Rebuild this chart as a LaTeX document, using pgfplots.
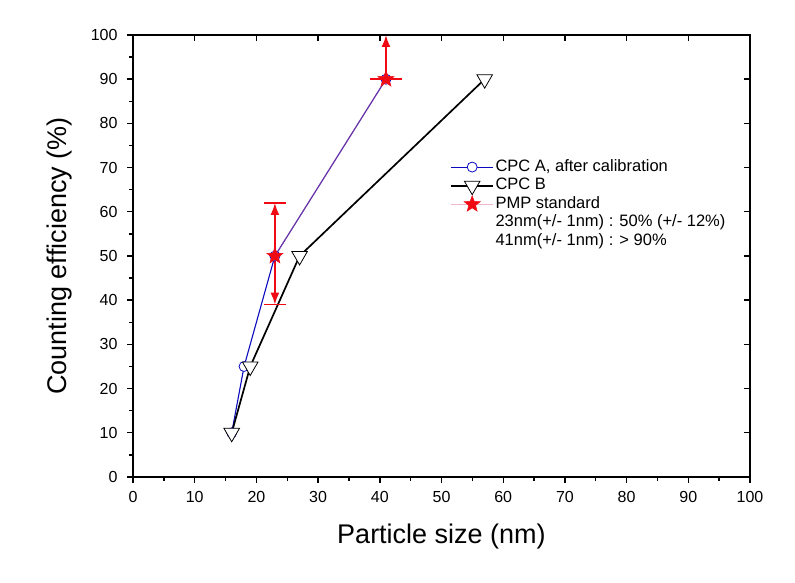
\documentclass[border=0pt]{standalone}
\usepackage{fontspec}
\setmainfont{Liberation Sans}
\usepackage{pgfplots}
\pgfplotsset{compat=1.18}
\usetikzlibrary{arrows.meta}

\pgfdeclareplotmark{fstar}{%
  \pgfpathmoveto{\pgfpointpolar{90}{\pgfplotmarksize}}%
  \pgfpathlineto{\pgfpointpolar{126}{0.42\pgfplotmarksize}}%
  \pgfpathlineto{\pgfpointpolar{162}{\pgfplotmarksize}}%
  \pgfpathlineto{\pgfpointpolar{198}{0.42\pgfplotmarksize}}%
  \pgfpathlineto{\pgfpointpolar{234}{\pgfplotmarksize}}%
  \pgfpathlineto{\pgfpointpolar{270}{0.42\pgfplotmarksize}}%
  \pgfpathlineto{\pgfpointpolar{306}{\pgfplotmarksize}}%
  \pgfpathlineto{\pgfpointpolar{342}{0.42\pgfplotmarksize}}%
  \pgfpathlineto{\pgfpointpolar{18}{\pgfplotmarksize}}%
  \pgfpathlineto{\pgfpointpolar{54}{0.42\pgfplotmarksize}}%
  \pgfpathclose
  \pgfusepathqfillstroke
}

\definecolor{cpcblue}{RGB}{10,10,190}
\definecolor{pmpred}{RGB}{240,10,20}
\definecolor{pmppink}{RGB}{220,100,140}

\begin{document}
\begin{tikzpicture}
\path[use as bounding box] (-133pt,-106pt) rectangle (662pt,477pt);
\begin{axis}[
  scale only axis, width=617pt, height=442pt,
  xmin=0, xmax=100, ymin=0, ymax=100,
  xtick distance=10, ytick distance=10,
  minor x tick num=1, minor y tick num=1,
  tick align=outside, xtick pos=left, ytick pos=left,
  major tick length=6pt, minor tick length=4pt,
  axis line style={line width=1.4pt},
  every tick/.style={black, line width=1.4pt},
  /pgf/number format/assume math mode=true,
  tick label style={font=\fontsize{16}{19}\selectfont},
  yticklabel style={xshift=-6pt},
  xticklabel style={yshift=-5pt},
  xlabel={Particle size (nm)}, ylabel={Counting efficiency (\%)},
  every axis x label/.style={at={(axis description cs:0.5,0)}, yshift=-60pt, anchor=center, font=\fontsize{27}{32}\selectfont},
  every axis y label/.style={at={(axis description cs:0,0.5)}, xshift=-73pt, rotate=90, anchor=center, font=\fontsize{27}{32}\selectfont},
  clip=false,
  legend cell align=left,
  legend style={at={(0.514,0.722)}, anchor=north west, draw=none, fill=none,
    font=\fontsize{16.5}{18}\selectfont, inner sep=0pt, row sep=0.6pt,
    nodes={text height=11.5pt, text depth=3.5pt, inner sep=1.5pt}},
  legend image code/.code={\draw[mark repeat=2,mark phase=2,#1] plot coordinates {(0pt,0pt) (21pt,0pt) (42pt,0pt)};},
]
\addplot[cpcblue, line width=1.1pt, mark=*, mark size=5pt, mark options={solid, line width=0.8pt, fill=white}]
  coordinates {(16,10) (18,25) (23,50) (41,90)};
\addlegendentry{CPC A, after calibration}
\addplot[black, line width=1.7pt, mark=triangle*, mark size=9pt, mark options={rotate=180, fill=white, line width=0.8pt}]
  coordinates {(16,10) (19,25) (27,50) (57,90)};
\addlegendentry{CPC B}
% error arrows of the PMP standard
\addplot[forget plot, pmpred, line width=1.8pt, -{Latex[length=12pt,width=9pt]}, mark=none]
  coordinates {(23,50) (23,62)};
\addplot[forget plot, pmpred, line width=1.8pt, -{Latex[length=12pt,width=9pt]}, mark=none]
  coordinates {(23,50) (23,39)};
\addplot[forget plot, pmpred, line width=1.8pt, -{Latex[length=12pt,width=9pt]}, mark=none]
  coordinates {(41,90) (41,100)};
\addplot[forget plot, only marks, pmpred, mark=-, mark size=11pt, mark options={line width=1.6pt}]
  coordinates {(23,62) (23,39)};
\addplot[forget plot, only marks, pmpred, mark=-, mark size=16pt, mark options={line width=1.6pt}]
  coordinates {(41,90)};
\addplot[pmppink, line width=1.2pt, draw opacity=0.45, mark=fstar, mark size=8.5pt,
  mark options={pmpred, fill=pmpred, draw opacity=1, line width=0.5pt}]
  coordinates {(23,50) (41,90)};
\addlegendentry{PMP standard}
\addlegendimage{empty legend}
\addlegendentry{23nm(+/- 1nm) : 50\% (+/- 12\%)}
\addlegendimage{empty legend}
\addlegendentry{41nm(+/- 1nm) : > 90\%}
\end{axis}
\begin{axis}[
  scale only axis, width=617pt, height=442pt,
  xmin=0, xmax=100, ymin=0, ymax=100,
  xtick distance=10, ytick distance=10,
  tick align=inside, xtick pos=right, ytick pos=right,
  xticklabels={}, yticklabels={},
  major tick length=6pt,
  axis line style={line width=1.4pt},
  every tick/.style={black, line width=1.4pt},
]
\end{axis}
\end{tikzpicture}
\end{document}
